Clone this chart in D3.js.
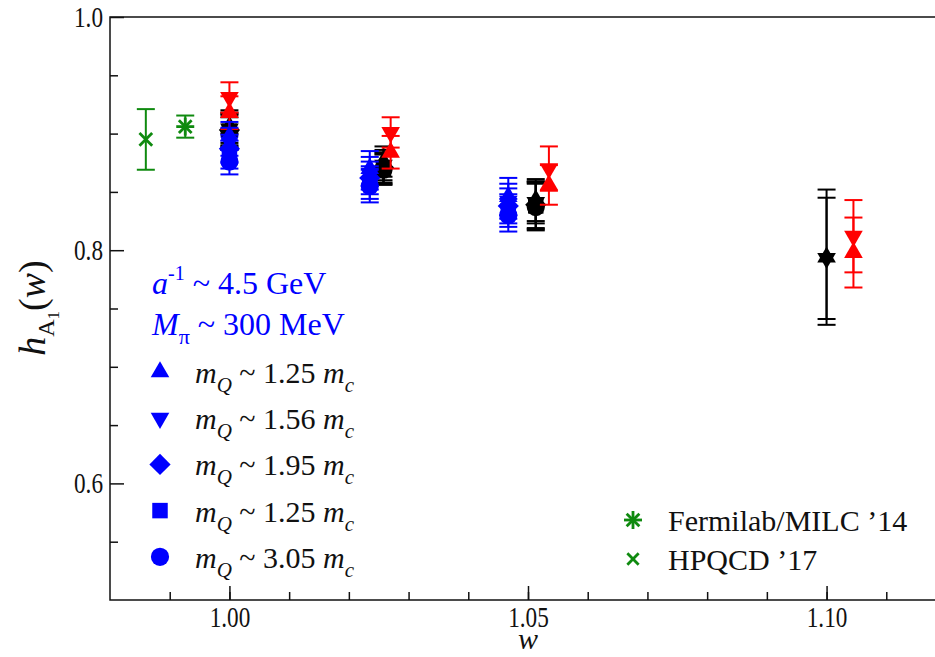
<!DOCTYPE html>
<html>
<head>
<meta charset="utf-8">
<script src="https://cdn.jsdelivr.net/npm/d3@7"></script>
<style>
  html, body { margin: 0; padding: 0; background: #fff; }
  svg { display: block; }
  text { font-family: "Liberation Serif", "DejaVu Serif", serif; }
</style>
</head>
<body>
<svg id="chart" width="935" height="657"></svg>
<script>
// ---- data ----
const shapeKinds = ["up", "down", "diamond", "square", "circle"];
const massRatios = ["1.25", "1.56", "1.95", "1.25", "3.05"];

// lattice results, one row per heavy-quark mass (shape order above)
const blueW = [1.000, 1.0235, 1.0467];
const blueVals = [
  [0.898, 0.870, 0.846],
  [0.893, 0.866, 0.842],
  [0.887, 0.862, 0.838],
  [0.882, 0.858, 0.834],
  [0.876, 0.855, 0.830]
];
const blueErrs = [
  [0.012, 0.015, 0.016],
  [0.012, 0.014, 0.015],
  [0.012, 0.014, 0.015],
  [0.012, 0.014, 0.014],
  [0.011, 0.014, 0.014]
];

const blackW = [1.000, 1.0258, 1.0513, 1.100];
const blackVals = [
  [0.906, 0.876, 0.843, 0.794],
  [0.904, 0.873, 0.841, 0.793],
  [0.903, 0.871, 0.839, null],
  [0.902, 0.870, 0.838, null],
  [0.900, 0.869, 0.837, null]
];
const blackErrs = [
  [0.014, 0.013, 0.018, 0.058],
  [0.014, 0.013, 0.018, 0.052],
  [0.014, 0.013, 0.020, null],
  [0.014, 0.013, 0.020, null],
  [0.014, 0.013, 0.020, null]
];

const redW = [1.000, 1.027, 1.0535, 1.1045];
const redVals = [
  [0.918, 0.884, 0.856, 0.798],
  [0.931, 0.901, 0.870, 0.812]
];
const redErrs = [
  [0.014, 0.014, 0.017, 0.030],
  [0.013, 0.013, 0.019, 0.031]
];
const redShapes = ["up", "down"];

// earlier determinations at zero recoil
const refNames = ["Fermilab/MILC \u201914", "HPQCD \u201917"];
const refW = [0.9926, 0.9860];
const refVals = [0.906, 0.895];
const refErrs = [0.0095, 0.026];

const xTicks = [1.00, 1.05, 1.10];
const yTicks = [0.6, 0.8, 1.0];

// ---- layout ----
const svg = d3.select("#chart");
const x = d3.scaleLinear().domain([0.98, 1.12]).range([110, 946]);
const y = d3.scaleLinear().domain([0.5, 1.0]).range([600, 17]);

const BLUE = "#0000ff", RED = "#ff0000", BLACK = "#000000", GREEN = "#0f8a0f";
const TICK_FONT = 29, SQUEEZE = 0.8;

// frame
svg.append("rect")
  .attr("x", x.range()[0]).attr("y", y.range()[1])
  .attr("width", x.range()[1] - x.range()[0])
  .attr("height", y.range()[0] - y.range()[1])
  .attr("fill", "none").attr("stroke", "#111").attr("stroke-width", 1.5);

// x axis (inward ticks)
const xAxisG = svg.append("g").attr("transform", `translate(0,${y.range()[0]})`);
xAxisG.call(d3.axisBottom(x).tickValues(d3.range(0.99, 1.115, 0.01)).tickSize(-8).tickFormat(""))
  .call(g => g.select(".domain").remove());
xAxisG.append("g").call(d3.axisBottom(x).tickValues(xTicks).tickSize(-14).tickFormat(d3.format(".2f")))
  .call(g => g.select(".domain").remove());
xAxisG.selectAll("line").attr("stroke", "#111").attr("stroke-width", 1.5);
xAxisG.selectAll("text")
  .style("font-size", TICK_FONT + "px").style("font-family", "Liberation Serif")
  .attr("fill", "#111").attr("y", 27).attr("dy", 0)
  .attr("transform", `scale(${SQUEEZE},1)`);

// y axis (inward ticks)
const yAxisG = svg.append("g").attr("transform", `translate(${x.range()[0]},0)`);
yAxisG.call(d3.axisLeft(y).tickValues([0.55, 0.65, 0.7, 0.75, 0.85, 0.9, 0.95]).tickSize(-8).tickFormat(""))
  .call(g => g.select(".domain").remove());
yAxisG.append("g").call(d3.axisLeft(y).tickValues(yTicks).tickSize(-14).tickFormat(d3.format(".1f")))
  .call(g => g.select(".domain").remove());
yAxisG.selectAll("line").attr("stroke", "#111").attr("stroke-width", 1.5);
yAxisG.selectAll("text")
  .style("font-size", TICK_FONT + "px").style("font-family", "Liberation Serif")
  .attr("fill", "#111").attr("x", -7 / SQUEEZE).attr("dy", "0.33em")
  .attr("transform", `scale(${SQUEEZE},1)`);

// axis titles
svg.append("text").attr("x", x(1.05)).attr("y", 649)
  .attr("text-anchor", "middle").attr("font-size", 30).attr("fill", "#111")
  .attr("font-style", "italic").text("w");

const yt = svg.append("text").attr("transform", "translate(45,308) rotate(-90)")
  .attr("text-anchor", "middle").attr("font-size", 38).attr("fill", "#111");
yt.append("tspan").attr("font-style", "italic").text("h");
yt.append("tspan").attr("font-size", 24).attr("dy", 9).text("A");
yt.append("tspan").attr("font-size", 17).attr("dy", 5).text("1");
yt.append("tspan").attr("dy", -14).text("(");
yt.append("tspan").attr("font-style", "italic").text("w");
yt.append("tspan").text(")");

// ---- markers ----
function markerPath(kind) {
  switch (kind) {
    case "up": return d3.symbol(d3.symbolTriangle, 150)();
    case "down": return d3.symbol(d3.symbolTriangle, 150)();
    case "diamond": return d3.symbol(d3.symbolSquare, 225)();
    case "square": return d3.symbol(d3.symbolSquare, 240)();
    case "circle": return d3.symbol(d3.symbolCircle, 260)();
  }
}
function markerRotate(kind) {
  return kind === "down" ? " rotate(180)" : kind === "diamond" ? " rotate(45)" : "";
}

function errorBar(g, w, v, e, color) {
  const cx = x(w), cap = 9;
  g.append("line").attr("x1", cx).attr("x2", cx).attr("y1", y(v - e)).attr("y2", y(v + e))
    .attr("stroke", color).attr("stroke-width", 2);
  [v - e, v + e].forEach(t => {
    g.append("line").attr("x1", cx - cap).attr("x2", cx + cap).attr("y1", y(t)).attr("y2", y(t))
      .attr("stroke", color).attr("stroke-width", 2);
  });
}

function drawSet(ws, vals, errs, kinds, color) {
  const g = svg.append("g");
  vals.forEach((row, i) => row.forEach((v, j) => {
    if (v !== null) errorBar(g, ws[j], v, errs[i][j], color);
  }));
  vals.forEach((row, i) => row.forEach((v, j) => {
    if (v === null) return;
    g.append("path").attr("d", markerPath(kinds[i]))
      .attr("transform", `translate(${x(ws[j])},${y(v)})${markerRotate(kinds[i])}`)
      .attr("fill", color);
  }));
}

drawSet(blackW, blackVals, blackErrs, shapeKinds, BLACK);
drawSet(redW, redVals, redErrs, redShapes, RED);
drawSet(blueW, blueVals, blueErrs, shapeKinds, BLUE);

// reference points: asterisk and cross
function spokes(g, cx, cy, r, angles, color) {
  angles.forEach(a => {
    const rad = a * Math.PI / 180;
    g.append("line").attr("x1", cx - r * Math.cos(rad)).attr("y1", cy - r * Math.sin(rad))
      .attr("x2", cx + r * Math.cos(rad)).attr("y2", cy + r * Math.sin(rad))
      .attr("stroke", color).attr("stroke-width", 2.8);
  });
}
const asterisk = (g, cx, cy, r, c) => spokes(g, cx, cy, r, [0, 45, 90, 135], c);
const cross = (g, cx, cy, r, c) => spokes(g, cx, cy, r, [45, 135], c);

const refG = svg.append("g");
refW.forEach((w, i) => errorBar(refG, w, refVals[i], refErrs[i], GREEN));
asterisk(refG, x(refW[0]), y(refVals[0]), 9, GREEN);
cross(refG, x(refW[1]), y(refVals[1]), 9, GREEN);

// ---- legends ----
const LEG_FONT = 30, PARAM_FONT = 32;
const leg = svg.append("g");
const l1 = leg.append("text").attr("x", 152).attr("y", 294).attr("font-size", PARAM_FONT).attr("fill", BLUE);
l1.append("tspan").attr("font-style", "italic").text("a");
l1.append("tspan").attr("font-size", 20).attr("dy", -14).text("-1");
l1.append("tspan").attr("dy", 14).text(" ~ 4.5 GeV");
const l2 = leg.append("text").attr("x", 152).attr("y", 335).attr("font-size", PARAM_FONT).attr("fill", BLUE);
l2.append("tspan").attr("font-style", "italic").text("M");
l2.append("tspan").attr("font-size", 22).attr("dy", 9).text("\u03c0");
l2.append("tspan").attr("dy", -9).text(" ~ 300 MeV");

shapeKinds.forEach((k, i) => {
  const cy = 372 + i * 46.2;
  leg.append("path").attr("d", markerPath(k))
    .attr("transform", `translate(160,${cy})${markerRotate(k)}`).attr("fill", BLUE);
  const t = leg.append("text").attr("x", 195).attr("y", cy + 11).attr("font-size", LEG_FONT).attr("fill", "#111");
  t.append("tspan").attr("font-style", "italic").text("m");
  t.append("tspan").attr("font-style", "italic").attr("font-size", 21).attr("dy", 9).text("Q");
  t.append("tspan").attr("dy", -9).text(` ~ ${massRatios[i]} `);
  t.append("tspan").attr("font-style", "italic").text("m");
  t.append("tspan").attr("font-style", "italic").attr("font-size", 21).attr("dy", 9).text("c");
});

const leg2 = svg.append("g");
asterisk(leg2, 633, 520, 9, GREEN);
cross(leg2, 633, 559, 8, GREEN);
refNames.forEach((n, i) => {
  leg2.append("text").attr("x", 668).attr("y", 531 + i * 39).attr("font-size", LEG_FONT).attr("fill", "#111").text(n);
});
</script>
</body>
</html>
